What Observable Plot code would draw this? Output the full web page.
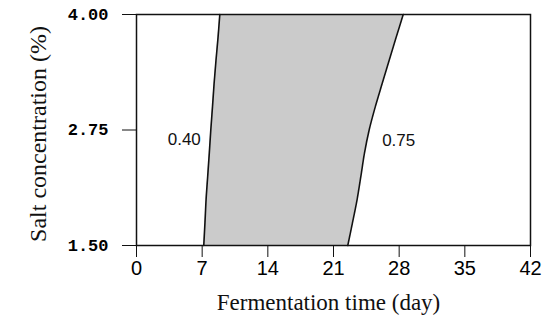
<!DOCTYPE html>
<html>
<head>
<meta charset="utf-8">
<script src="https://cdn.jsdelivr.net/npm/d3@7"></script>
<script src="https://cdn.jsdelivr.net/npm/@observablehq/plot@0.6"></script>
<style>
  body { margin: 0; background: #fff; }
</style>
</head>
<body>
<div id="chart"></div>
<script>
// Salt concentration levels (%)
const salt = [1.5, 1.75, 2.0, 2.25, 2.5, 2.75, 3.0, 3.25, 3.5, 3.75, 4.0];
// Fermentation time (day) of the 0.40 boundary curve
const lowerDays = [7.17, 7.30, 7.42, 7.59, 7.76, 7.92, 8.10, 8.27, 8.47, 8.69, 8.88];
// Fermentation time (day) of the 0.75 boundary curve
const upperDays = [22.52, 23.03, 23.52, 23.92, 24.30, 24.80, 25.45, 26.18, 26.92, 27.67, 28.43];
const lowerLabel = "0.40";
const upperLabel = "0.75";
const xTicks = [0, 7, 14, 21, 28, 35, 42];
const yTicks = [1.5, 2.75, 4.0];
const xTitle = "Fermentation time (day)";
const yTitle = "Salt concentration (%)";

const rows = salt.map((s, i) => ({salt: s, lo: lowerDays[i], hi: upperDays[i]}));
const labelIdx = salt.indexOf(2.75);

const chart = Plot.plot({
  width: 550,
  height: 327,
  marginTop: 14,
  marginBottom: 82,
  marginLeft: 136,
  marginRight: 20,
  style: {background: "#fff", color: "#000"},
  x: {domain: [0, 42]},
  y: {domain: [1.5, 4.0]},
  marks: [
    Plot.areaX(rows, {y: "salt", x1: "lo", x2: "hi", fill: "#cbcbcb", curve: "catmull-rom"}),
    Plot.line(rows, {x: "lo", y: "salt", stroke: "#111", strokeWidth: 1.6, curve: "catmull-rom"}),
    Plot.line(rows, {x: "hi", y: "salt", stroke: "#111", strokeWidth: 1.6, curve: "catmull-rom"}),
    Plot.frame({stroke: "#111", strokeWidth: 1.5}),
    Plot.axisY({ticks: yTicks, tickSize: 14, tickPadding: 14, tickFormat: d3.format(".2f"),
      fontFamily: "Liberation Mono", fontWeight: "bold", fontSize: 17, label: null, stroke: "#111"}),
    Plot.axisX({ticks: xTicks, tickSize: 12, tickPadding: 3, tickFormat: d => String(d),
      fontFamily: "Liberation Sans", fontSize: 20, label: null, stroke: "#111"}),
    Plot.text([rows[labelIdx]], {x: "lo", y: "salt", text: () => lowerLabel, textAnchor: "end", dx: -10, dy: 10,
      fontFamily: "Liberation Sans", fontSize: 17, fill: "#111"}),
    Plot.text([rows[labelIdx]], {x: "hi", y: "salt", text: () => upperLabel, textAnchor: "start", dx: 13, dy: 11,
      fontFamily: "Liberation Sans", fontSize: 17, fill: "#111"}),
    Plot.text([xTitle], {frameAnchor: "bottom", text: d => d, textAnchor: "middle", dx: -5, dy: 64,
      fontFamily: "Liberation Serif", fontSize: 23, fill: "#111"}),
    Plot.text([yTitle], {frameAnchor: "left", text: d => d, textAnchor: "middle", rotate: -90, dx: -98, dy: 4,
      fontFamily: "Liberation Serif", fontSize: 24, fill: "#111"})
  ]
});
document.getElementById("chart").appendChild(chart);
</script>
</body>
</html>
